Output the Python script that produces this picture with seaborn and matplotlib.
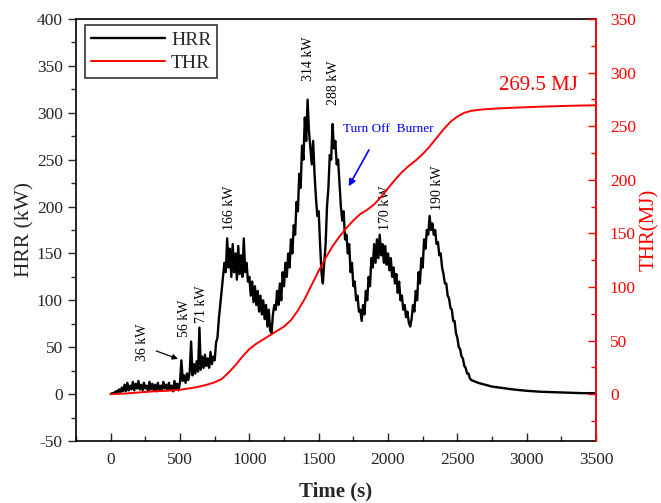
import numpy as np
import pandas as pd
import matplotlib
matplotlib.use("Agg")
import matplotlib.pyplot as plt
from matplotlib.ticker import MultipleLocator
import seaborn as sns

# ---- data ----
hrr_time = list(range(0, 2610, 10)) + [2650, 2700, 2750, 2800, 2900, 3000, 3100, 3200, 3300, 3400, 3500]
hrr_vals = [0, 1, 1, 2, 3, 2, 5, 2, 7, 3,
            10, 3, 12, 4, 9, 5, 13, 4, 11, 6,
            14, 5, 10, 4, 12, 6, 9, 3, 13, 5,
            11, 4, 10, 3, 12, 5, 9, 4, 13, 6,
            10, 4, 12, 5, 9, 3, 14, 5, 11, 4,
            13, 36, 14, 20, 12, 22, 15, 24, 56, 20,
            32, 22, 35, 24, 71, 26, 40, 28, 42, 30,
            38, 28, 45, 32, 40, 36, 55, 60, 80, 95,
            110, 125, 140, 130, 166, 135, 155, 125, 160, 130,
            150, 122, 158, 128, 148, 125, 166, 130, 140, 120,
            125, 105, 120, 98, 115, 95, 110, 88, 105, 85,
            100, 80, 95, 72, 90, 68, 65, 85, 95, 90,
            110, 95, 118, 100, 130, 115, 140, 125, 150, 135,
            165, 150, 180, 170, 205, 195, 235, 220, 265, 250,
            295, 270, 314, 280, 262, 245, 270, 235, 210, 190,
            195, 160, 130, 118, 140, 160, 200, 220, 255, 250,
            288, 262, 270, 245, 250, 225, 200, 185, 195, 165,
            170, 150, 160, 130, 140, 115, 120, 100, 105, 88,
            90, 78, 95, 85, 110, 100, 125, 115, 145, 135,
            160, 140, 165, 145, 170, 148, 160, 140, 158, 138,
            150, 132, 145, 125, 135, 118, 128, 108, 120, 100,
            105, 90, 95, 82, 88, 76, 72, 80, 95, 88,
            110, 100, 130, 118, 145, 135, 165, 155, 175, 170,
            190, 175, 182, 170, 175, 160, 162, 148, 150, 135,
            128, 118, 118, 105, 102, 92, 90, 78, 78, 65,
            60, 50, 48, 40, 38, 30, 28, 22, 22, 17,
            15,
            12, 10, 8, 7, 5, 3.5, 2.5, 2, 1.5, 1, 1]

thr_time = [0, 50, 100, 150, 200, 250, 300, 350, 400, 450, 500, 550, 600, 650,
            700, 750, 800, 850, 900, 950, 1000, 1050, 1100, 1150, 1200, 1250,
            1300, 1350, 1400, 1450, 1500, 1550, 1600, 1650, 1700, 1750, 1800,
            1850, 1900, 1950, 2000, 2050, 2100, 2150, 2200, 2250, 2300, 2350,
            2400, 2450, 2500, 2550, 2600, 2650, 2700, 2800, 2900, 3000, 3100,
            3200, 3300, 3400, 3500]
thr_vals = [0, 0.2, 0.5, 1, 1.5, 2, 2.5, 2.8, 3.1, 3.5, 4, 5, 6, 7.3,
            9, 11, 14, 20, 27, 35, 42, 47, 51, 55, 59, 63,
            69, 78, 89, 102, 115, 127, 138, 147, 155, 162, 168,
            172, 177, 184, 192, 200, 207, 213, 218, 224, 231, 239,
            247, 254, 259, 262.5, 264.3, 265.2, 265.8, 266.6, 267.2, 267.7, 268.2,
            268.6, 269, 269.3, 269.5]

peak_labels = ["36 kW", "56 kW", "71 kW", "166 kW", "314 kW", "288 kW", "170 kW", "190 kW"]
peak_label_pos = [(230, 55), (533, 81), (655, 96), (857, 199), (1426, 358),
                  (1606, 332), (1980, 199), (2355, 220)]

hrr_df = pd.DataFrame({"Time": hrr_time, "HRR": hrr_vals})
thr_df = pd.DataFrame({"Time": thr_time, "THR": thr_vals})

sns.set_style("ticks")
plt.rcParams["font.family"] = ["Liberation Serif", "DejaVu Serif"]
plt.rcParams["axes.unicode_minus"] = False

fig = plt.figure(figsize=(6.61, 5.03), dpi=100)
ax = fig.add_axes([0.115, 0.1233, 0.7867, 0.8389])
ax2 = ax.twinx()

sns.lineplot(data=hrr_df, x="Time", y="HRR", ax=ax, color="black", lw=1.7, label="HRR", legend=False)
sns.lineplot(data=thr_df, x="Time", y="THR", ax=ax2, color="red", lw=1.4, label="THR", legend=False)

ax.set_xlim(-250, 3500)
ax.set_ylim(-50, 400)
ax2.set_ylim(-43.75, 350)

ax.xaxis.set_major_locator(MultipleLocator(500))
ax.xaxis.set_minor_locator(MultipleLocator(250))
ax.yaxis.set_major_locator(MultipleLocator(50))
ax.yaxis.set_minor_locator(MultipleLocator(25))
ax2.yaxis.set_major_locator(MultipleLocator(50))
ax2.yaxis.set_minor_locator(MultipleLocator(25))
ax2.set_yticks([0, 50, 100, 150, 200, 250, 300, 350])

ax.tick_params(axis="x", which="major", direction="in", length=6, width=1, labelsize=12.5, pad=8)
ax.tick_params(axis="x", which="minor", direction="in", length=3.5, width=1)
ax.tick_params(axis="y", which="major", direction="out", length=6, width=1, labelsize=12.5)
ax.tick_params(axis="y", which="minor", direction="out", length=3.5, width=1)
ax2.tick_params(axis="y", which="major", direction="in", length=6, width=1, labelsize=12.5,
                colors="red", pad=10)
ax2.tick_params(axis="y", which="minor", direction="in", length=3.5, width=1, colors="red")

for s in ["left", "bottom", "top"]:
    ax.spines[s].set_linewidth(1.2)
    ax.spines[s].set_color("black")
ax2.spines["right"].set_color("red")
ax2.spines["right"].set_linewidth(1.4)
ax2.spines["left"].set_visible(False)
ax2.spines["top"].set_visible(False)
ax2.spines["bottom"].set_visible(False)
ax.spines["right"].set_visible(False)

ax.set_xlabel("Time (s)", fontsize=15, fontweight="bold", labelpad=10)
ax.set_ylabel("HRR (kW)", fontsize=15.5, labelpad=2)
ax2.set_ylabel("THR(MJ)", fontsize=15, color="red", labelpad=3)

for lab, (tx, ty) in zip(peak_labels, peak_label_pos):
    ax.text(tx, ty, lab, rotation=90, ha="center", va="center", fontsize=10, color="black")

ax.annotate("", xy=(504, 36.5), xytext=(310, 47),
            arrowprops=dict(arrowstyle="-|>", color="black", lw=0.9, mutation_scale=8))
ax.text(1678, 283, "Turn Off  Burner", ha="left", va="center", fontsize=9.5, color="blue")
ax.annotate("", xy=(1707, 219), xytext=(1872, 263),
            arrowprops=dict(arrowstyle="-|>", color="blue", lw=1.2, mutation_scale=10))
ax.text(3082, 329, "269.5 MJ", ha="center", va="center", fontsize=15, color="red")

h1, l1 = ax.get_legend_handles_labels()
h2, l2 = ax2.get_legend_handles_labels()
leg = ax.legend(h1 + h2, l1 + l2, loc="upper left", bbox_to_anchor=(0.018, 0.985),
                fontsize=14, frameon=True, fancybox=False, edgecolor="black",
                handlelength=3.8, borderpad=0.3, labelspacing=0.3, handletextpad=0.3,
                borderaxespad=0)
leg.get_frame().set_linewidth(1.2)

fig.savefig("out.png", dpi=100)
